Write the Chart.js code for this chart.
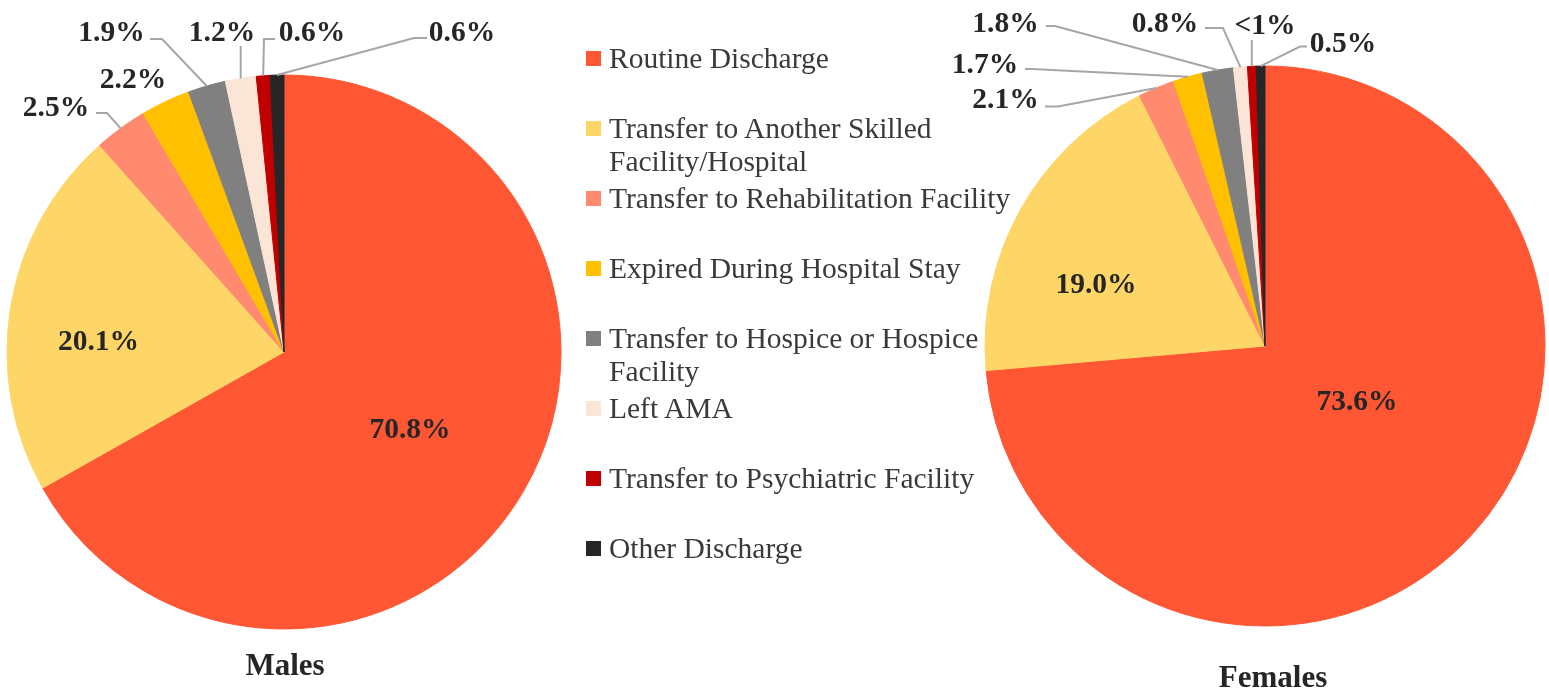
<!DOCTYPE html>
<html><head><meta charset="utf-8">
<script src="https://cdn.jsdelivr.net/npm/chart.js@4.4.1/dist/chart.umd.min.js"></script>
<style>
html,body{margin:0;padding:0;background:#fff;}
#wrap{position:relative;width:1549px;height:694px;overflow:hidden;background:#fff;}
canvas{position:absolute;left:0;top:0;}
.legend-item{position:absolute;left:586px;width:460px;font-family:"Liberation Serif","Times New Roman",serif;font-size:29.5px;line-height:33px;color:#3a3a3a;}
.swatch{position:absolute;left:0;top:9px;width:15px;height:15px;}
.ltext{position:absolute;left:23px;top:0;width:425px;}
.title{position:absolute;font-family:"Liberation Serif","Times New Roman",serif;font-weight:bold;font-size:31px;line-height:31px;color:#262626;transform:translateX(-50%);white-space:nowrap;}
</style></head>
<body><div id="wrap">
<canvas id="males" width="1549" height="694"></canvas>
<canvas id="females" width="1549" height="694"></canvas>
<div id="legend"></div>
<div class="title" id="tM" style="left:285px;top:649px;"></div>
<div class="title" id="tF" style="left:1273px;top:661px;"></div>
</div>
<script>
// ---- data ----
const categories = [
  'Routine Discharge',
  'Transfer to Another Skilled Facility/Hospital',
  'Transfer to Rehabilitation Facility',
  'Expired During Hospital Stay',
  'Transfer to Hospice or Hospice Facility',
  'Left AMA',
  'Transfer to Psychiatric Facility',
  'Other Discharge'
];
const malesValues   = [66.9, 21.6, 3.1, 2.9, 2.2, 1.8, 0.8, 0.8];
const femalesValues = [73.6, 19.0, 2.1, 1.7, 1.8, 0.8, 0.5, 0.5];
const malesLabels   = ['70.8%', '20.1%', '2.5%', '2.2%', '1.9%', '1.2%', '0.6%', '0.6%'];
const femalesLabels = ['73.6%', '19.0%', '2.1%', '1.7%', '1.8%', '0.8%', '<1%', '0.5%'];
const chartTitles   = ['Males', 'Females'];

// ---- styles / layout ----
const colors = ['#FF5733', '#FDD667', '#FF8A70', '#FFC000', '#808080', '#FBE5D6', '#C00000', '#262626'];

// label placement: text centre (x,y); leader [startX, startY, elbowX] (null startX = vertical to slice)
const malesLabelLayout = [
  {x: 410, y: 428, leader: null},
  {x: 98.5, y: 340, leader: null},
  {x: 56, y: 106, leader: [96, 113, 107]},
  {x: 133, y: 78, leader: null},
  {x: 111.5, y: 31, leader: [150, 39, 162]},
  {x: 222, y: 31, leader: [null, 46, null]},
  {x: 312, y: 31, leader: [275, 39, 264]},
  {x: 462, y: 31, leader: [427, 38, 414]}
];
const femalesLabelLayout = [
  {x: 1357, y: 400, leader: null},
  {x: 1096, y: 283, leader: null},
  {x: 1005.5, y: 98, leader: [1045, 106.5, 1058]},
  {x: 985, y: 62.5, leader: [1025, 69, 1032]},
  {x: 1005.5, y: 21.5, leader: [1046, 26, 1055]},
  {x: 1165, y: 21.5, leader: [1205, 28, 1223]},
  {x: 1265, y: 24, leader: [null, 40, null]},
  {x: 1343, y: 41.5, leader: [1307, 46.5, 1300]}
];

const labelPlugin = {
  id: 'sliceLabels',
  afterDatasetsDraw(chart, args, opts) {
    const ctx = chart.ctx;
    const meta = chart.getDatasetMeta(0);
    ctx.save();
    ctx.font = 'bold 29.5px "Liberation Serif", "Times New Roman", serif';
    ctx.fillStyle = '#262626';
    ctx.textAlign = 'center';
    ctx.textBaseline = 'alphabetic';
    ctx.strokeStyle = '#A6A6A6';
    ctx.lineWidth = 2;
    meta.data.forEach((arc, i) => {
      const p = opts.layout[i];
      const a = arc.getProps(['x', 'y', 'startAngle', 'endAngle', 'outerRadius'], true);
      const mid = (a.startAngle + a.endAngle) / 2;
      const ex = a.x + a.outerRadius * Math.cos(mid);
      const ey = a.y + a.outerRadius * Math.sin(mid);
      if (p.leader) {
        const [x0, y0, x1] = p.leader;
        ctx.beginPath();
        if (x0 === null) {
          ctx.moveTo(ex, y0);
          ctx.lineTo(ex, ey);
        } else {
          ctx.moveTo(x0, y0);
          ctx.lineTo(x1, y0);
          ctx.lineTo(ex, ey);
        }
        ctx.stroke();
      }
      ctx.fillText(opts.texts[i], p.x, p.y + 10);
    });
    ctx.restore();
  }
};

function makePie(id, values, texts, layout, pad) {
  return new Chart(document.getElementById(id), {
    type: 'pie',
    data: {
      labels: categories,
      datasets: [{data: values, backgroundColor: colors, borderColor: colors, borderWidth: 1}]
    },
    options: {
      responsive: false,
      animation: false,
      events: [],
      layout: {padding: pad},
      plugins: {
        legend: {display: false},
        tooltip: {enabled: false},
        title: {display: false},
        sliceLabels: {texts: texts, layout: layout}
      }
    },
    plugins: [labelPlugin]
  });
}

makePie('males', malesValues, malesLabels, malesLabelLayout,
  {left: 6.5, right: 987.5, top: 74.5, bottom: 64.5});
makePie('females', femalesValues, femalesLabels, femalesLabelLayout,
  {left: 984.5, right: 3.5, top: 65.5, bottom: 67.5});

document.getElementById('tM').textContent = chartTitles[0];
document.getElementById('tF').textContent = chartTitles[1];

// legend
const legend = document.getElementById('legend');
categories.forEach((c, i) => {
  const item = document.createElement('div');
  item.className = 'legend-item';
  item.style.top = (41.5 + 70 * i) + 'px';
  const sw = document.createElement('div');
  sw.className = 'swatch';
  sw.style.background = colors[i];
  const tx = document.createElement('div');
  tx.className = 'ltext';
  tx.textContent = c;
  item.appendChild(sw);
  item.appendChild(tx);
  legend.appendChild(item);
});
</script>
</body></html>
